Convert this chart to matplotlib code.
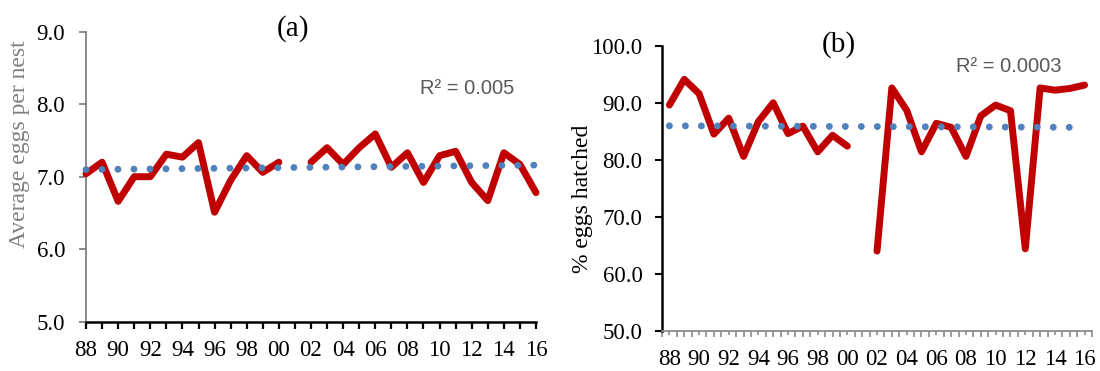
import numpy as np
import matplotlib
matplotlib.use("Agg")
import matplotlib.pyplot as plt
from matplotlib.ticker import FixedLocator, FormatStrFormatter

# ---------------- data ----------------
years = list(range(1988, 2017))
year_labels = [f"{y % 100:02d}" for y in years]

eggs_per_nest = [7.04, 7.20, 6.66, 7.00, 7.00, 7.31, 7.27, 7.47, 6.51, 6.95,
                 7.29, 7.06, 7.20, np.nan, 7.20, 7.40, 7.17, 7.40, 7.59, 7.13,
                 7.33, 6.92, 7.29, 7.35, 6.92, 6.67, 7.33, 7.17, 6.78]

pct_hatched = [89.6, 94.1, 91.6, 84.5, 87.3, 80.6, 86.7, 90.0, 84.6, 85.9,
               81.4, 84.3, 82.4, np.nan, 64.0, 92.6, 88.7, 81.4, 86.4, 85.7,
               80.6, 87.7, 89.6, 88.6, 64.4, 92.6, 92.2, 92.5, 93.1]

r2_a = "R² = 0.005"
r2_b = "R² = 0.0003"
# the trendline of panel (b) spans one category less (as in the source chart)
trend_n_a = 29
trend_n_b = 28

RED = "#C00000"
BLUE = "#4F81BD"
GRAY_TXT = "#595959"
SERIF = "Liberation Serif"

plt.rcParams["font.family"] = SERIF

fig = plt.figure(figsize=(11, 3.71), dpi=100)
W, H = 1100, 371
axA = fig.add_axes([86 / W, (H - 321.7) / H, 450 / W, 290 / H])
axB = fig.add_axes([662 / W, (H - 331) / H, 430 / W, 285.3 / H])

x = np.arange(len(years))


def trend(vals, n):
    v = np.array(vals, dtype=float)
    m = ~np.isnan(v)
    c = np.polyfit(x[m], v[m], 1)
    xt = x[:n]
    return xt, np.polyval(c, xt)


line_lw = 5.0
dot_lw = 5.0
dot_dash = (0.001, 16 / 6.95)
TICK_FS = 16.5

# ---------------- panel (a) ----------------
axA.plot(x, eggs_per_nest, color=RED, lw=line_lw, solid_joinstyle="round",
         solid_capstyle="round", zorder=3, clip_on=False)
xt, yt = trend(eggs_per_nest, trend_n_a)
axA.plot(xt, yt, color=BLUE, lw=dot_lw, linestyle=(0, dot_dash),
         dash_capstyle="round", zorder=4, clip_on=False)
axA.set_xlim(0, 28)
axA.set_ylim(5, 9)
axA.set_yticks([5, 6, 7, 8, 9])
axA.yaxis.set_major_formatter(FormatStrFormatter("%.1f"))
axA.xaxis.set_major_locator(FixedLocator(x[::2]))
axA.set_xticklabels(year_labels[::2])
axA.xaxis.set_minor_locator(FixedLocator(x[1::2]))
for s in ("top", "right"):
    axA.spines[s].set_visible(False)
axA.spines["left"].set_color("#808080")
axA.spines["left"].set_linewidth(1.3)
axA.spines["bottom"].set_color("black")
axA.spines["bottom"].set_linewidth(1.8)
axA.tick_params(axis="y", colors="#808080", labelcolor="black", length=5,
                width=1.3, labelsize=TICK_FS, pad=10)
axA.tick_params(axis="x", which="both", colors="black", length=5, width=1.6,
                labelsize=TICK_FS, pad=8)
axA.set_ylabel("Average eggs per nest", fontsize=17, color="#808080")
axA.yaxis.set_label_coords(-0.125, 0.613)
fig.text(419.6 / W, 1 - 89 / H, r2_a, fontsize=14.5, color=GRAY_TXT,
         family="Liberation Sans", ha="left", va="center")
fig.text(293.5 / W, 1 - 29 / H, "(a)", fontsize=21, ha="center", va="center")

# ---------------- panel (b) ----------------
axB.plot(x, pct_hatched, color=RED, lw=line_lw, solid_joinstyle="round",
         solid_capstyle="round", zorder=3)
xt, yt = trend(pct_hatched, trend_n_b)
axB.plot(xt, yt, color=BLUE, lw=dot_lw, linestyle=(0, dot_dash),
         dash_capstyle="round", zorder=4)
axB.set_xlim(-0.5, 28.5)
axB.set_ylim(50, 100)
axB.set_yticks([50, 60, 70, 80, 90, 100])
axB.yaxis.set_major_formatter(FormatStrFormatter("%.1f"))
axB.xaxis.set_major_locator(FixedLocator(x[::2]))
axB.set_xticklabels(year_labels[::2])
axB.xaxis.set_minor_locator(FixedLocator(np.arange(-0.5, 28.6, 0.5)))
for s in ("top", "right"):
    axB.spines[s].set_visible(False)
axB.spines["left"].set_color("black")
axB.spines["left"].set_linewidth(1.8)
axB.spines["bottom"].set_color("#8C8C8C")
axB.spines["bottom"].set_linewidth(1.3)
axB.tick_params(axis="y", colors="black", length=5, width=1.5,
                labelsize=TICK_FS, pad=9)
axB.tick_params(axis="x", which="major", colors="#8C8C8C", labelcolor="black",
                length=3, width=1.2, labelsize=TICK_FS, pad=10)
axB.tick_params(axis="x", which="minor", colors="#8C8C8C", length=4, width=1.2)
axB.set_ylabel("% eggs hatched", fontsize=17, color="black")
axB.yaxis.set_label_coords(-0.16, 0.463)
fig.text(956 / W, 1 - 66.7 / H, r2_b, fontsize=14.5, color=GRAY_TXT,
         family="Liberation Sans", ha="left", va="center")
fig.text(839 / W, 1 - 45 / H, "(b)", fontsize=21, ha="center", va="center")

fig.savefig("out.png", dpi=100)
